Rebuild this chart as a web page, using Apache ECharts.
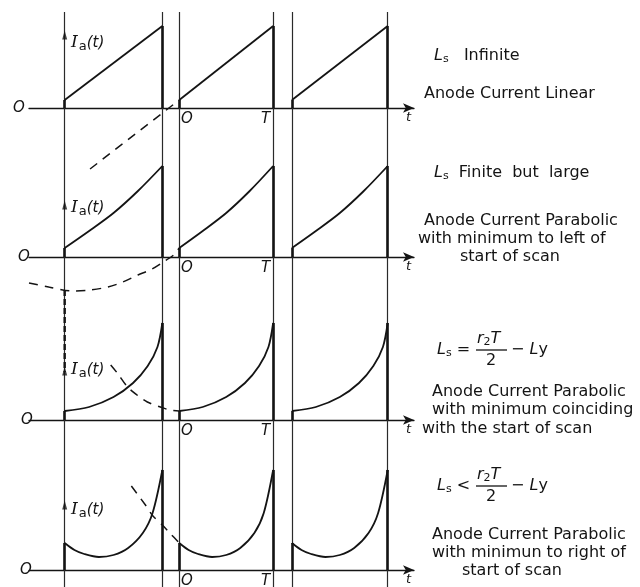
<!DOCTYPE html>
<html><head><meta charset="utf-8">
<script src="https://cdn.jsdelivr.net/npm/echarts@6/dist/echarts.min.js"></script>
<style>html,body{margin:0;padding:0;background:#fff}#c{width:640px;height:587px}</style>
</head><body><div id="c"></div>
<script>
// ---------- DATA (time in units of T, current in arbitrary units) ----------
const scanStarts = [-1.22, 0, 1.2];
const scanEnds = [-0.18, 1.0, 2.22];
const verticalLines = [-1.22, -0.18, 0, 1.0, 1.2, 2.22];

// panel 1 : Ls infinite, linear
const p1ScanU = [0, 1];
const p1ScanI = [0.8, 8.2];
const p1DashT = [-0.95, 0];
const p1DashI = [-6.1, 0.8];

// panel 2 : Ls finite but large
const p2ScanU = [0, 0.25, 0.5, 0.75, 1];
const p2ScanI = [0.9, 2.6, 4.4, 6.6, 9.1];
const p2DashT = [-1.6, -1.39, -1.14, -0.95, -0.76, -0.6, -0.44, -0.29, -0.17, -0.06, 0];
const p2DashI = [-2.6, -3.0, -3.4, -3.3, -3.0, -2.5, -1.8, -1.2, -0.5, 0.2, 0.9];

// panel 3 : minimum coinciding with start of scan
const p3ScanU = [0, 0.25, 0.5, 0.7, 0.85, 0.95, 1];
const p3ScanI = [0.9, 1.3, 2.3, 3.7, 5.4, 7.3, 9.7];
const p3DashT = [-0.73, -0.66, -0.55, -0.45, -0.34, -0.2, -0.1, 0];
const p3DashI = [5.5, 4.7, 3.3, 2.5, 1.8, 1.3, 1.0, 0.9];

// panel 4 : minimum to right of start of scan
const p4ScanU = [0, 0.1, 0.2, 0.35, 0.5, 0.65, 0.8, 0.9, 1];
const p4ScanI = [2.7, 2.0, 1.6, 1.3, 1.5, 2.2, 3.7, 5.7, 10.0];
const p4DashT = [-0.51, -0.36, -0.28, -0.18, -0.1, 0];
const p4DashI = [8.4, 6.5, 5.4, 4.5, 3.7, 2.7];

// y-axis arrow heads (current value where the I_a arrow sits)
const arrowI = [7.3, 5.2, 4.9, 6.5];

// tick labels
const axisOriginLabel = 'O';
const periodLabel = 'T';
const timeLabel = 't';

// ---------- LAYOUT ----------
const X_MIN = -1.6, X_MAX = 2.5;
const GL = 29, GW = 385;
const INK = '#141414';
const panels = [
  {top: 8,   height: 170, yMin: -7,   yMax: 10, u: p1ScanU, I: p1ScanI, dt: p1DashT, di: p1DashI, smooth: false, axisY: 108},
  {top: 157, height: 170, yMin: -7,   yMax: 10, u: p2ScanU, I: p2ScanI, dt: p2DashT, di: p2DashI, smooth: 0.3, axisY: 257},
  {top: 320, height: 170, yMin: -7,   yMax: 10, u: p3ScanU, I: p3ScanI, dt: p3DashT, di: p3DashI, smooth: 0.3, axisY: 420},
  {top: 470, height: 117, yMin: -1.7, yMax: 10, u: p4ScanU, I: p4ScanI, dt: p4DashT, di: p4DashI, smooth: 0.3, axisY: 570}
];

const grid = panels.map(p => ({left: GL, width: GW, top: p.top, height: p.height, containLabel: false, outerBoundsMode: 'none'}));
grid.push({left: GL, width: GW, top: 12, bottom: 0, containLabel: false, outerBoundsMode: 'none'});

const xAxis = panels.map((p, i) => ({
  gridIndex: i, type: 'value', min: X_MIN, max: X_MAX,
  axisLine: {show: true, onZero: true, symbol: ['none', 'arrow'], symbolSize: [7, 11], lineStyle: {color: INK, width: 1.3}},
  axisTick: {show: false}, axisLabel: {show: false}, splitLine: {show: false}
}));
xAxis.push({gridIndex: 4, type: 'value', min: X_MIN, max: X_MAX, show: false});

const yAxis = panels.map((p, i) => ({gridIndex: i, type: 'value', min: p.yMin, max: p.yMax, show: false}));
yAxis.push({gridIndex: 4, type: 'value', min: 0, max: 1, show: false});

const series = [];
// full-height vertical guide lines
series.push({
  type: 'lines', coordinateSystem: 'cartesian2d', xAxisIndex: 4, yAxisIndex: 4,
  silent: true, animation: false,
  lineStyle: {color: '#2a2a2a', width: 1.2, opacity: 1},
  data: verticalLines.map(t => ({coords: [[t, 0], [t, 1]]}))
});

panels.forEach((p, pi) => {
  // scan curves
  scanStarts.forEach((s, k) => {
    const e = scanEnds[k];
    series.push({
      type: 'line', xAxisIndex: pi, yAxisIndex: pi, smooth: p.smooth, symbol: 'none',
      clip: false, silent: true, animation: false,
      lineStyle: {color: INK, width: 1.8},
      data: p.u.map((u, j) => [s + u * (e - s), p.I[j]])
    });
  });
  // start steps and retrace (fly-back) lines
  const segs = [];
  scanStarts.forEach((s, k) => {
    const e = scanEnds[k];
    segs.push({coords: [[s, 0], [s, p.I[0]]]});
    segs.push({coords: [[e, p.I[p.I.length - 1]], [e, 0]]});
  });
  series.push({
    type: 'lines', coordinateSystem: 'cartesian2d', xAxisIndex: pi, yAxisIndex: pi,
    silent: true, animation: false, clip: false,
    lineStyle: {color: INK, width: 2.6, opacity: 1}, data: segs
  });
  // dashed continuation
  series.push({
    type: 'line', xAxisIndex: pi, yAxisIndex: pi, smooth: p.smooth, symbol: 'none',
    clip: false, silent: true, animation: false,
    lineStyle: {color: INK, width: 1.5, type: [9, 7]},
    data: p.dt.map((t, j) => [t, p.di[j]])
  });
  // I_a arrow head on the vertical axis
  series.push({
    type: 'scatter', xAxisIndex: pi, yAxisIndex: pi, symbol: 'triangle', symbolSize: [5, 9],
    clip: false, silent: true, animation: false,
    itemStyle: {color: INK}, data: [[scanStarts[0], arrowI[pi]]]
  });
});
// thick dashed portion of the axis in panel 3
series.push({
  type: 'line', xAxisIndex: 2, yAxisIndex: 2, symbol: 'none', clip: false, silent: true, animation: false,
  lineStyle: {color: INK, width: 2.4, type: [6, 3]},
  data: [[scanStarts[0], 13], [scanStarts[0], 4.8]]
});

// ---------- TEXT ----------
const SANS = '"DejaVu Sans", sans-serif';
const g = [];
function txt(x, y, text, opt) {
  g.push({type: 'text', x: x, y: y, silent: true, z: 100,
    style: Object.assign({text: text, fill: INK, fontFamily: SANS, fontSize: 16, align: 'left', verticalAlign: 'middle'}, opt || {})});
}
const subRich = {
  L: {fontFamily: SANS, fontSize: 16, fontStyle: 'italic', fill: INK, verticalAlign: 'middle'},
  s: {fontFamily: SANS, fontSize: 11, fill: INK, verticalAlign: 'bottom', padding: [6, 0, 0, 0]},
  n: {fontFamily: SANS, fontSize: 16, fill: INK, verticalAlign: 'middle'}
};

panels.forEach((p, pi) => {
  const ay = p.axisY;
  const lx = [13, 18, 21, 20][pi];
  txt(lx, ay, axisOriginLabel, {fontStyle: 'italic', fontSize: 15});
  txt(181, ay + 11, axisOriginLabel, {fontStyle: 'italic', fontSize: 15});
  txt(261, ay + 11, periodLabel, {fontStyle: 'italic', fontSize: 15});
  txt(406, ay + 10, timeLabel, {fontStyle: 'italic', fontSize: 13});
  const iy = [43, 208, 370, 510][pi];
  g.push({type: 'text', x: 71, y: iy, silent: true, z: 100, style: {
    text: '{i|I}{a|a}{p|(t)}', align: 'left', verticalAlign: 'middle',
    rich: {
      i: {fontFamily: '"DejaVu Serif", serif', fontStyle: 'italic', fontSize: 17, fill: INK, verticalAlign: 'middle'},
      a: {fontFamily: SANS, fontSize: 13, fill: INK, verticalAlign: 'bottom', padding: [7, 0, 0, 1]},
      p: {fontFamily: '"DejaVu Sans", sans-serif', fontStyle: 'italic', fontSize: 15, fill: INK, verticalAlign: 'middle'}
    }}});
});

// panel 1 descriptions
txt(434, 56, '{L|L}{s|s}{n|   Infinite}', {rich: subRich});
txt(424, 94, 'Anode Current Linear');
// panel 2
txt(434, 173, '{L|L}{s|s}{n|  Finite  but  large}', {rich: subRich});
txt(424, 221, 'Anode Current Parabolic');
txt(418, 239, 'with minimum to left of');
txt(460, 257, 'start of scan');
// panel 3
function formula(x, y, rel) {
  txt(x, y, '{L|L}{s|s}{n| ' + rel + '}', {rich: subRich});
  const fx = x + 40;
  txt(fx, y - 11, '{L|r}{s|2}{L|T}', {rich: subRich});
  g.push({type: 'line', silent: true, z: 100, shape: {x1: fx - 1, y1: y, x2: fx + 30, y2: y}, style: {stroke: INK, lineWidth: 1.3}});
  txt(fx + 9, y + 11, '2');
  txt(fx + 34, y, '{n|− }{L|L}{n|y}', {rich: subRich});
}
formula(437, 350, '=');
txt(432, 392, 'Anode Current Parabolic');
txt(432, 410, 'with minimum coinciding');
txt(422, 429, 'with the start of scan');
// panel 4
formula(437, 486, '<');
txt(432, 535, 'Anode Current Parabolic');
txt(432, 553, 'with minimun to right of');
txt(462, 571, 'start of scan');

const chart = echarts.init(document.getElementById('c'), null, {renderer: 'canvas'});
chart.setOption({
  backgroundColor: '#ffffff', animation: false,
  grid: grid, xAxis: xAxis, yAxis: yAxis, series: series, graphic: g
});
</script></body></html>
